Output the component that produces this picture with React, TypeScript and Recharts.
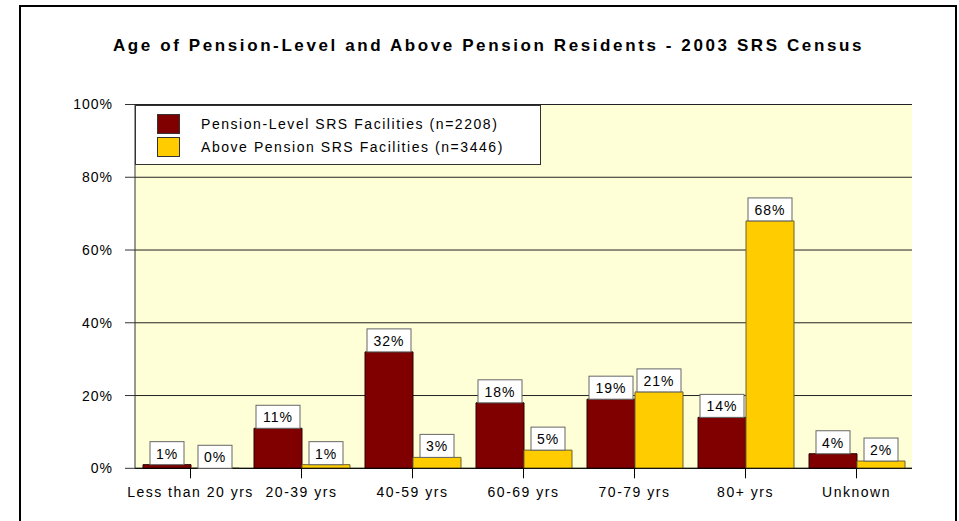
import { BarChart, Bar, XAxis, YAxis, CartesianGrid, LabelList } from 'recharts';

const categories = ['Less than 20 yrs', '20-39 yrs', '40-59 yrs', '60-69 yrs', '70-79 yrs', '80+ yrs', 'Unknown'];
const pensionLevel = [1, 11, 32, 18, 19, 14, 4];
const abovePension = [0, 1, 3, 5, 21, 68, 2];
const yTicks = [0, 20, 40, 60, 80, 100];

const seriesNames = ['Pension-Level SRS Facilities (n=2208)', 'Above Pension SRS Facilities (n=3446)'];
const seriesColors = ['#800000', '#FFCC00'];
const seriesStrokes = ['#2a0000', '#6b6330'];

const data = categories.map((name, i) => ({
  name,
  pension: pensionLevel[i],
  above: abovePension[i],
}));

const FONT = '"Liberation Sans", Arial, sans-serif';

const BoxLabel = (props: any) => {
  const { x, y, width, value } = props;
  const txt = `${value}%`;
  const w = String(value).length > 1 ? 44 : 34;
  const h = 23;
  const cx = x + width / 2;
  return (
    <g>
      <rect x={cx - w / 2} y={y - h} width={w} height={h} fill="#fff" stroke="#666" strokeWidth={1} />
      <text x={cx} y={y - 6} textAnchor="middle" fontSize={14} fontFamily={FONT} letterSpacing={1} fill="#000">
        {txt}
      </text>
    </g>
  );
};

export default function App() {
  return (
    <div style={{ position: 'absolute', left: 0, top: 0, width: 959, height: 521, overflow: 'hidden', background: '#fff', fontFamily: FONT }}>
      <div style={{ position: 'absolute', left: 19, top: 5, width: 934, height: 540, border: '2px solid #000' }} />
      <div style={{ position: 'absolute', left: 0, width: 977, top: 35, textAlign: 'center', fontSize: 17, fontWeight: 'bold', letterSpacing: 2.6, lineHeight: '22px' }}>
        Age of Pension-Level and Above Pension Residents - 2003 SRS Census
      </div>
      <div style={{ position: 'absolute', left: 0, top: 0 }}>
        <BarChart width={959} height={521} data={data} margin={{ top: 104.5, right: 47, bottom: 22.7, left: 0 }} barCategoryGap={8} barGap={0}>
          <CartesianGrid vertical={false} stroke="#222" fill="#FFFFD7" />
          <XAxis dataKey="name" stroke="#000" tickSize={10} tickMargin={9} height={30} interval={0}
            tick={{ fontSize: 14, fontFamily: FONT, fill: '#000', letterSpacing: 1.5 }} />
          <YAxis domain={[0, 100]} ticks={yTicks} tickFormatter={(v) => `${v}%`} width={135} tickSize={10} tickMargin={12}
            stroke="#333" tick={{ fontSize: 14, fontFamily: FONT, fill: '#000', letterSpacing: 1 }} />
          <YAxis yAxisId="r" orientation="right" domain={[0, 100]} width={0} tick={false} tickLine={false} stroke="#333" />
          <Bar dataKey="pension" fill={seriesColors[0]} stroke={seriesStrokes[0]} minPointSize={0.01} isAnimationActive={false}>
            <LabelList dataKey="pension" content={BoxLabel} />
          </Bar>
          <Bar dataKey="above" fill={seriesColors[1]} stroke={seriesStrokes[1]} minPointSize={0.01} isAnimationActive={false}>
            <LabelList dataKey="above" content={BoxLabel} />
          </Bar>
        </BarChart>
      </div>
      <div style={{ position: 'absolute', left: 135, top: 104.5, width: 404, height: 58, background: '#fff', border: '1px solid #333' }}>
        {seriesNames.map((n, i) => (
          <div key={n} style={{ position: 'absolute', left: 0, top: 8 + i * 23, height: 20 }}>
            <div style={{ position: 'absolute', left: 21, top: 0, width: 21, height: 18, background: seriesColors[i], border: '1px solid #333' }} />
            <div style={{ position: 'absolute', left: 65, top: 0, lineHeight: '20px', fontSize: 14, letterSpacing: 1.55, whiteSpace: 'nowrap' }}>{n}</div>
          </div>
        ))}
      </div>
    </div>
  );
}
